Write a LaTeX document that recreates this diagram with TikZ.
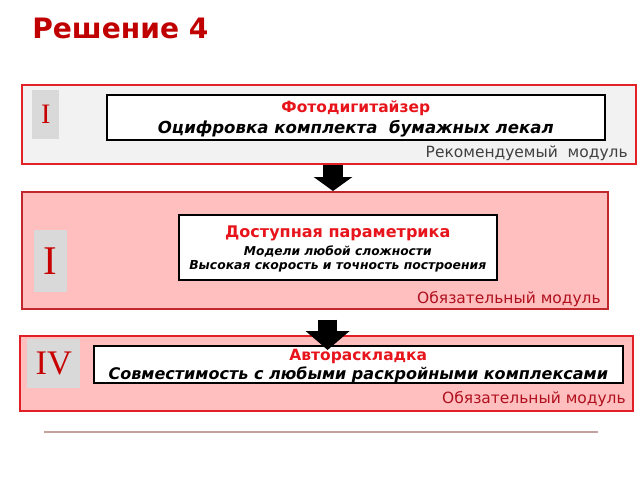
\documentclass[tikz,border=0pt]{standalone}
\usepackage{fontspec}
\setmainfont{DejaVu Sans}
\newfontfamily\romfont{Liberation Serif}
\usepackage{tikz}
\usetikzlibrary{arrows.meta, positioning, calc}
\definecolor{titlered}{HTML}{C00000}
\definecolor{headred}{HTML}{E8141B}
\definecolor{rekborder}{HTML}{E32228}
\definecolor{rekfill}{HTML}{F2F2F2}
\definecolor{objborder}{HTML}{C0282E}
\definecolor{objborderb}{HTML}{E01F26}
\definecolor{objfill}{HTML}{FFBFBF}
\definecolor{badgegray}{HTML}{D9D9D9}
\definecolor{numred}{HTML}{C80000}
\definecolor{labelgray}{HTML}{404040}
\definecolor{labelred}{HTML}{B0101E}
\definecolor{rulerose}{HTML}{C4A19D}
\tikzset{
  modbox/.style={anchor=north west, inner sep=0pt, line width=1.4pt},
  badge/.style={anchor=north west, inner sep=0pt, fill=badgegray},
  numeral/.style={text=numred, font=\romfont},
  innerbox/.style={anchor=north west, inner sep=0pt, draw=black, fill=white, line width=1.1pt},
  modtext/.style={align=center, inner sep=0pt},
  modlabel/.style={anchor=base east, inner sep=0pt, font=\fontsize{11}{12}\selectfont},
  blockarrow/.style={line width=#1, black, line cap=butt},
}
\begin{document}
\begin{tikzpicture}
  \useasboundingbox (0,0) rectangle (16,-12);
  % title
  \node[anchor=base west, inner sep=0pt, text=titlered,
    font=\bfseries\fontsize{20}{22}\selectfont] (title) at (0.8,-0.95) {Решение 4};

  % module I (recommended)
  \node[modbox, draw=rekborder, fill=rekfill, minimum width=15.35cm,
    minimum height=1.975cm] (mod1) at (0.525,-2.1) {};
  \node[badge, minimum width=0.675cm, minimum height=1.225cm] (badge1) at (0.8,-2.25) {};
  \node[numeral, font=\romfont\fontsize{20}{20}\selectfont] (num1) at (badge1.center) {I};
  \node[innerbox, minimum width=12.45cm, minimum height=1.125cm] (inn1) at (2.65,-2.35) {};
  \node[modtext] (txt1) at ($(inn1.center)+(0,-0.05)$)
    {{\color{headred}\bfseries\fontsize{11}{13}\selectfont Фотодигитайзер}\\[3pt]
     {\bfseries\itshape\fontsize{11.8}{14}\selectfont Оцифровка комплекта\ \ бумажных лекал}};
  \node[modlabel, text=labelgray] (lab1) at (15.7,-3.93) {Рекомендуемый\ \ модуль};

  % module I (required)
  \node[modbox, draw=objborder, fill=objfill, line width=1.1pt, minimum width=14.65cm,
    minimum height=2.925cm] (mod2) at (0.525,-4.775) {};
  \node[badge, minimum width=0.825cm, minimum height=1.55cm] (badge2) at (0.85,-5.75) {};
  \node[numeral, font=\romfont\fontsize{29}{29}\selectfont] (num2) at (badge2.center) {I};
  \node[innerbox, minimum width=7.95cm, minimum height=1.625cm] (inn2) at (4.45,-5.35) {};
  \node[modtext] (txt2) at ($(inn2.center)+(0,-0.04)$)
    {{\color{headred}\bfseries\fontsize{11.4}{13}\selectfont Доступная параметрика}\\[1pt]
     {\bfseries\itshape\fontsize{8.7}{10.5}\selectfont Модели любой сложности}\\[-2.5pt]
     {\bfseries\itshape\fontsize{8.8}{10.5}\selectfont Высокая скорость и точность построения}};
  \node[modlabel, text=labelred] (lab2) at (15.025,-7.575) {Обязательный модуль};

  % module IV (required)
  \node[modbox, draw=objborderb, fill=objfill, minimum width=15.325cm,
    minimum height=1.875cm] (mod3) at (0.475,-8.375) {};
  \node[badge, minimum width=1.325cm, minimum height=1.225cm] (badge3) at (0.675,-8.475) {};
  \node[numeral, font=\romfont\fontsize{24.5}{25}\selectfont] (num3) at (badge3.center) {IV};
  \node[innerbox, minimum width=13.225cm, minimum height=0.925cm] (inn3) at (2.325,-8.625) {};
  \node[modtext] (txt3) at ($(inn3.center)+(0,-0.05)$)
    {{\color{headred}\bfseries\fontsize{11}{13}\selectfont Автораскладка}\\[1.5pt]
     {\bfseries\itshape\fontsize{11.4}{14}\selectfont Совместимость с любыми раскройными комплексами}};
  \node[modlabel, text=labelred] (lab3) at (15.65,-10.075) {Обязательный модуль};

  % arrows between modules
  \coordinate (ax1) at (8.325,0);
  \coordinate (ax2) at (8.19,0);
  \draw[blockarrow=0.5cm, -{Triangle[width=0.95cm, length=0.35cm]}]
    (ax1 |- mod1.south) -- (ax1 |- mod2.north);
  \coordinate (a2start) at ($(ax2 |- mod2.south)+(0,-0.25)$);
  \coordinate (a2end) at ($(ax2 |- inn3.north)+(0,-0.125)$);
  \draw[blockarrow=0.475cm, -{Triangle[width=1.075cm, length=0.475cm]}]
    (a2start) -- (a2end);

  % bottom rule
  \coordinate (ruleL) at (1.1,-10.8);
  \coordinate (ruleR) at (14.95,-10.8);
  \draw[rulerose, line width=1.5pt] (ruleL) -- (ruleR);
\end{tikzpicture}
\end{document}
